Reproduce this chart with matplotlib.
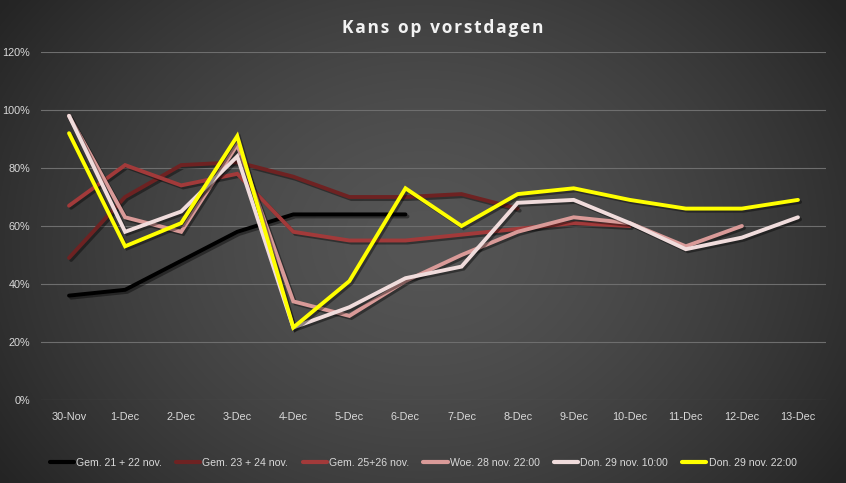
import numpy as np
import matplotlib
matplotlib.use("Agg")
import matplotlib.pyplot as plt
import matplotlib.patheffects as pe
from matplotlib import font_manager as fm

categories = ["30-Nov", "1-Dec", "2-Dec", "3-Dec", "4-Dec", "5-Dec", "6-Dec",
              "7-Dec", "8-Dec", "9-Dec", "10-Dec", "11-Dec", "12-Dec", "13-Dec"]

gem_21_22 = [36, 38, 48, 58, 64, 64, 64]
gem_23_24 = [49, 70, 81, 82, 77, 70, 70, 71, 66]
gem_25_26 = [67, 81, 74, 78, 58, 55, 55, 57, 59, 61, 60]
woe_28 = [98, 63, 58, 88, 34, 29, 41, 50, 58, 63, 61, 53, 60]
don_29_10 = [98, 58, 65, 84, 25, 32, 42, 46, 68, 69, 61, 52, 56, 63]
don_29_22 = [92, 53, 61, 91, 25, 41, 73, 60, 71, 73, 69, 66, 66, 69]

labels = ["Gem. 21 + 22 nov.", "Gem. 23 + 24 nov.", "Gem. 25+26 nov.",
          "Woe. 28 nov. 22:00", "Don. 29 nov. 10:00", "Don. 29 nov. 22:00"]
series = [gem_21_22, gem_23_24, gem_25_26, woe_28, don_29_10, don_29_22]
colors = ["#000000", "#6e2222", "#a23a3a", "#d99a98", "#f0dcdc", "#ffff00"]

names = {f.name for f in fm.fontManager.ttflist}
tickfont = "Liberation Sans" if "Liberation Sans" in names else "DejaVu Sans"

W, H = 846, 483
fig = plt.figure(figsize=(W / 100, H / 100), dpi=100)

# radial gradient background
bg = fig.add_axes([0, 0, 1, 1])
yy, xx = np.mgrid[0:H, 0:W]
cx, cy = W * 0.5, H * 0.5
r = np.sqrt(((xx - cx) / (W * 0.6)) ** 2 + ((yy - cy) / (H * 0.85)) ** 2)
r = np.clip(r, 0, 1)
c0 = np.array([0x55, 0x55, 0x55]) / 255
c1 = np.array([0x25, 0x25, 0x25]) / 255
t = r[..., None] ** 1.5
img = c0[None, None, :] * (1 - t) + c1[None, None, :] * t
bg.imshow(img, aspect="auto", extent=[0, 1, 0, 1], origin="upper")
bg.set_axis_off()

ax = fig.add_axes([41 / W, 1 - 400 / H, (826 - 41) / W, (400 - 52) / H])
ax.set_facecolor("none")
x = np.arange(len(categories))

shadow = [pe.SimpleLineShadow(offset=(1.5, -1.5), shadow_color="black", alpha=0.4), pe.Normal()]
for vals, col, lab in zip(series, colors, labels):
    ax.plot(x[:len(vals)], vals, color=col, lw=2.8, label=lab,
            solid_joinstyle="miter", solid_capstyle="round", path_effects=shadow)

ax.set_xlim(-0.5, len(categories) - 0.5)
ax.set_ylim(0, 120)
ax.set_yticks(np.arange(0, 121, 20))
ax.set_yticklabels([f"{v}%" for v in range(0, 121, 20)])
ax.set_xticks(x)
ax.set_xticklabels(categories)
ax.grid(axis="y", color="#6e6e6e", lw=0.8)
ax.set_axisbelow(True)
for s in ax.spines.values():
    s.set_visible(False)
ax.tick_params(axis="both", length=0, colors="#d9d9d9", labelsize=7.8)
ax.tick_params(axis="x", pad=9)
ax.tick_params(axis="y", pad=8)
for lbl in ax.get_xticklabels() + ax.get_yticklabels():
    lbl.set_family([tickfont, "DejaVu Sans"])

fig.text(443 / W, 1 - 28 / H, "K a n s   o p   v o r s t d a g e n".replace("   ", "\u2002").replace(" ", "\u200a"),
         ha="center", va="center", color="#f2f2f2", fontsize=12.5, fontweight="bold",
         family=["Open Sans", "DejaVu Sans"])

leg = fig.legend(loc="center", bbox_to_anchor=(423 / W, 1 - 463 / H), ncol=6, frameon=False,
                 prop={"family": [tickfont, "DejaVu Sans"], "size": 7.6},
                 labelcolor="#d9d9d9", handlelength=2.3, handletextpad=0.2,
                 columnspacing=1.35)
for h in leg.legend_handles:
    h.set_path_effects([])
    h.set_linewidth(3)

fig.savefig("out.png", dpi=100)
